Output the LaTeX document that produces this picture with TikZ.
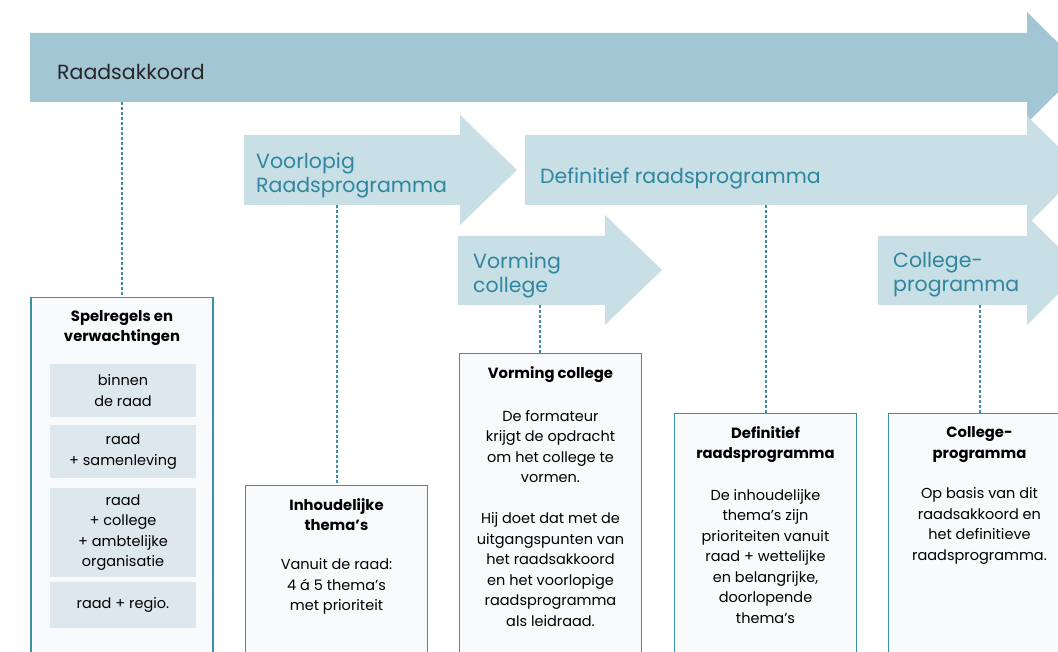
\documentclass[tikz,border=0pt]{standalone}
\usepackage{fontspec}
\setmainfont{Poppins}
\usetikzlibrary{positioning,calc}
\definecolor{akkoordblue}{HTML}{A3C6D5}
\definecolor{lightblue}{HTML}{C8DFE5}
\definecolor{tealtext}{HTML}{2F86A0}
\definecolor{boxline}{HTML}{3E8FA5}
\definecolor{boxfill}{HTML}{F9FAFC}
\definecolor{innerfill}{HTML}{DDE8EE}

\begin{document}
\begin{tikzpicture}[x=1pt,y=-1pt,
  phase/.style={fill=lightblue},
  phaselabel/.style={text=tealtext,font=\fontsize{20.5}{24}\selectfont,align=left,anchor=west,inner sep=0pt},
  infobox/.style={draw=boxline,line width=1.4pt,fill=boxfill,minimum width=182pt,minimum height=400pt,anchor=north,inner sep=0pt},
  boxtitle/.style={font=\bfseries\fontsize{14.8}{20.5}\selectfont,align=center,inner sep=0pt},
  boxtext/.style={font=\fontsize{14.5}{20.5}\selectfont,align=center,inner sep=0pt},
  subbox/.style={fill=innerfill,minimum width=146pt,font=\fontsize{14.5}{20.5}\selectfont,align=center,inner sep=0pt},
  link/.style={boxline,line width=2pt,dash pattern=on 3pt off 2pt}]
  \clip (0,0) rectangle (1058,652);
  % phase arrows
  \fill[akkoordblue] (30,33) -- (1027,33) -- (1027,12) -- (1083,67.5) -- (1027,123) -- (1027,102) -- (30,102) -- cycle;
  \fill[phase] (525,135) -- (1027,135) -- (1027,116) -- (1082,170) -- (1027,225) -- (1027,205) -- (525,205) -- cycle;
  \fill[phase] (244,135) -- (460,135) -- (460,115) -- (517,170) -- (460,225) -- (460,205) -- (244,205) -- cycle;
  \fill[phase] (458,236) -- (605,236) -- (605,215) -- (662,270) -- (605,325) -- (605,305) -- (458,305) -- cycle;
  \fill[phase] (878,236) -- (1027,236) -- (1027,216) -- (1082,270) -- (1027,325) -- (1027,305) -- (878,305) -- cycle;
  \node[phaselabel,text=black!85] (akkoord) at (57,72) {Raadsakkoord};
  \node[phaselabel] (voorlopig) at (256,175) {Voorlopig\\Raadsprogramma};
  \node[phaselabel] (definitief) at (540,178) {Definitief raadsprogramma};
  \node[phaselabel] (vorming) at (473,275) {Vorming\\college};
  \node[phaselabel] (collegeprog) at (893,275) {College-\\programma};
  % lower edges of the arrows
  \coordinate (akkoord-s) at (122,102);
  \coordinate (voorlopig-s) at (336.5,205);
  \coordinate (vorming-s) at (540,305);
  \coordinate (definitief-s) at (765.5,205);
  \coordinate (collegeprog-s) at (979.5,305);
  % boxes
  \node[infobox] (spelregels) at (122,297) {};
  \node[infobox] (inhoud) at (336.5,485) {};
  \node[infobox] (vormbox) at (550.5,353) {};
  \node[infobox] (defbox) at (765.5,413) {};
  \node[infobox] (collegebox) at (979.5,413) {};
  \draw[link] (akkoord-s) -- (spelregels.north);
  \draw[link] (voorlopig-s) -- (inhoud.north);
  \draw[link] (vorming-s) -- (vorming-s |- vormbox.north);
  \draw[link] (definitief-s) -- (defbox.north);
  \draw[link] (collegeprog-s) -- (collegebox.north);
  % spelregels
  \node[boxtitle] (spelregels-t) at (122,328) {Spelregels en\\verwachtingen};
  \node[subbox,minimum height=53pt] (binnen) at (123,390.5) {binnen\\de raad};
  \node[subbox,minimum height=53pt] (samenleving) at (123,451.5) {raad\\+ samenleving};
  \node[subbox,minimum height=89pt] (college) at (123,532.5) {raad\\+ college\\+ ambtelijke\\organisatie};
  \node[subbox,minimum height=46pt] (regio) at (123,605) {raad + regio.};
  % inhoud
  \node[boxtitle] (inhoud-t) at (336.5,514.5) {Inhoudelijke\\thema's};
  \node[boxtext] (inhoud-b) at (336.5,586.5) {Vanuit de raad:\\4 á 5 thema's\\met prioriteit};
  % vorming college
  \node[boxtitle] (vormbox-t) at (550.5,375) {Vorming college};
  \node[boxtext] (vormbox-b) at (550.5,446.5) {De formateur\\krijgt de opdracht\\om het college te\\vormen.};
  \node[boxtext] (vormbox-c) at (550.5,569.5) {Hij doet dat met de\\uitgangspunten van\\het raadsakkoord\\en het voorlopige\\raadsprogramma\\als leidraad.};
  % definitief
  \node[boxtitle] (defbox-t) at (765.5,444.5) {Definitief\\raadsprogramma};
  \node[boxtext] (defbox-b) at (765.5,556.5) {De inhoudelijke\\thema's zijn\\prioriteiten vanuit\\raad + wettelijke\\en belangrijke,\\doorlopende\\thema's};
  % collegeprogramma
  \node[boxtitle] (collegebox-t) at (979.5,444.5) {College-\\programma};
  \node[boxtext] (collegebox-b) at (979.5,526) {Op basis van dit\\raadsakkoord en\\het definitieve\\raadsprogramma.};
\end{tikzpicture}
\end{document}
